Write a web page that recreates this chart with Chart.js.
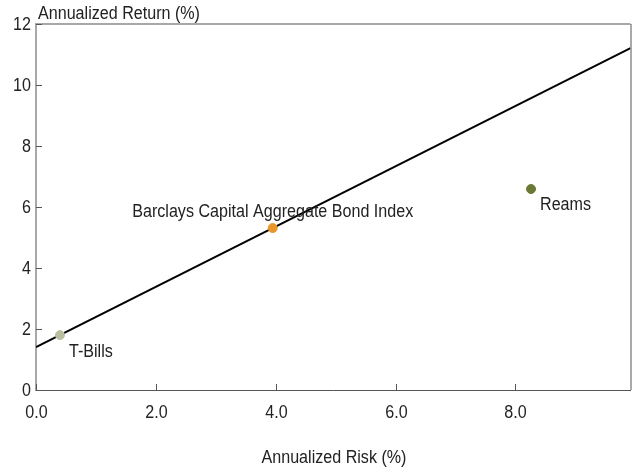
<!DOCTYPE html>
<html lang="en">
<head>
  <meta charset="UTF-8">
  <title>Risk vs Return</title>
  <script src="https://cdn.jsdelivr.net/npm/chart.js"></script>
  <style>
    html, body { margin: 0; padding: 0; background: #fff; }
    #wrap { width: 636px; height: 472px; }
  </style>
</head>
<body>
  <div id="wrap"><canvas id="riskChart" width="636" height="472"></canvas></div>

  <script>
    // data
    const names = ['T-Bills', 'Barclays Capital Aggregate Bond Index', 'Reams'];
    const riskVals = [0.40, 3.95, 8.26];
    const returnVals = [1.80, 5.31, 6.59];
    const pointColors = ['#b9c09f', '#e8952c', '#6a7a34'];
    const lineX = [0, 9.92];
    const lineY = [1.41, 11.21];
    const xTicks = [0, 2, 4, 6, 8];
    const yTicks = [0, 2, 4, 6, 8, 10, 12];

    const fontFamily = '"Liberation Sans", Arial, sans-serif';
    const textFont = '17.5px ' + fontFamily;
    const squeeze = 0.92; // the original text looks a bit condensed

    // where each label sits relative to its point (dx, dy, align)
    const labelPlace = [
      { dx: 9, dy: 17, align: 'left' },
      { dx: 0, dy: -16, align: 'center' },
      { dx: 9, dy: 16, align: 'left' }
    ];

    function drawText(ctx, txt, x, y, align) {
      ctx.save();
      ctx.translate(x, y);
      ctx.scale(squeeze, 1);
      ctx.font = textFont;
      ctx.fillStyle = '#222';
      ctx.textAlign = align;
      ctx.textBaseline = 'middle';
      ctx.fillText(txt, 0, 0);
      ctx.restore();
    }

    // frame, inward ticks, tick labels, point labels and axis titles
    const decorPlugin = {
      id: 'decor',
      afterDraw(chart) {
        const ctx = chart.ctx;
        const a = chart.chartArea;
        const xs = chart.scales.x, ys = chart.scales.y;
        ctx.save();
        // top border
        ctx.strokeStyle = '#a8a8a8';
        ctx.lineWidth = 2;
        ctx.beginPath(); ctx.moveTo(a.left, a.top); ctx.lineTo(a.right, a.top); ctx.stroke();
        // right border
        ctx.strokeStyle = '#555';
        ctx.lineWidth = 1;
        ctx.beginPath(); ctx.moveTo(a.right + 0.5, a.top); ctx.lineTo(a.right + 0.5, a.bottom); ctx.stroke();
        // ticks pointing in, with their labels
        xTicks.forEach(v => {
          const px = Math.round(xs.getPixelForValue(v)) + 0.5;
          ctx.beginPath(); ctx.moveTo(px, a.bottom); ctx.lineTo(px, a.bottom - 6); ctx.stroke();
          drawText(ctx, v.toFixed(1), px, a.bottom + 23, 'center');
        });
        yTicks.forEach(v => {
          const py = Math.round(ys.getPixelForValue(v)) + 0.5;
          ctx.beginPath(); ctx.moveTo(a.left, py); ctx.lineTo(a.left + 6, py); ctx.stroke();
          drawText(ctx, String(v), a.left - 5, py + 1, 'right');
        });
        // labels for points
        names.forEach((n, i) => {
          const px = xs.getPixelForValue(riskVals[i]);
          const py = ys.getPixelForValue(returnVals[i]);
          drawText(ctx, n, px + labelPlace[i].dx, py + labelPlace[i].dy, labelPlace[i].align);
        });
        // axis titles
        drawText(ctx, 'Annualized Return (%)', a.left + 2, 14, 'left');
        drawText(ctx, 'Annualized Risk (%)', 334, 458, 'center');
        ctx.restore();
      }
    };

    const ctx = document.getElementById('riskChart');
    new Chart(ctx, {
      type: 'scatter',
      data: {
        datasets: [
          {
            type: 'line',
            data: lineX.map((x, i) => ({ x: x, y: lineY[i] })),
            borderColor: '#000',
            borderWidth: 2,
            pointRadius: 0,
            fill: false,
            order: 2
          },
          {
            data: riskVals.map((x, i) => ({ x: x, y: returnVals[i] })),
            backgroundColor: pointColors,
            borderColor: pointColors,
            pointRadius: 4.5,
            order: 1
          }
        ]
      },
      options: {
        responsive: false,
        animation: false,
        layout: { padding: { top: 24, right: -1, left: 0, bottom: 0 } },
        plugins: {
          legend: { display: false },
          tooltip: { enabled: false }
        },
        scales: {
          x: {
            type: 'linear',
            min: 0,
            max: 9.92,
            afterBuildTicks: s => { s.ticks = xTicks.map(v => ({ value: v })); },
            afterFit: s => { s.height = 82; },
            grid: { drawOnChartArea: false, drawTicks: false },
            border: { color: '#555', width: 1 },
            ticks: { display: false }
          },
          y: {
            type: 'linear',
            min: 0,
            max: 12,
            afterBuildTicks: s => { s.ticks = yTicks.map(v => ({ value: v })); },
            afterFit: s => { s.width = 36; },
            grid: { drawOnChartArea: false, drawTicks: false },
            border: { color: '#a8a8a8', width: 2 },
            ticks: { display: false }
          }
        }
      },
      plugins: [decorPlugin]
    });
  </script>
</body>
</html>
